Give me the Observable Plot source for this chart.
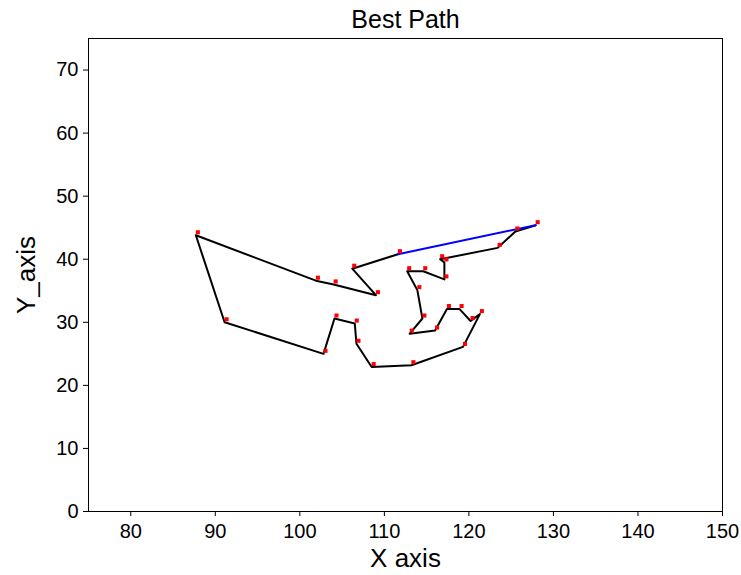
<!DOCTYPE html>
<html>
<head>
<meta charset="utf-8">
<script src="https://cdn.jsdelivr.net/npm/d3@7"></script>
<script src="https://cdn.jsdelivr.net/npm/@observablehq/plot@0.6"></script>
<style>
  html, body { margin: 0; padding: 0; background: #fff; }
  svg { font-family: "Liberation Sans", Arial, sans-serif; }
</style>
</head>
<body>
<div id="chart"></div>
<script>
// Path order (visited cities)
const pathX = [127.9, 125.5, 123.4, 116.6, 117.1, 117.1, 114.6, 112.7, 113.9, 114.5,
               113.0, 116.0, 117.4, 118.9, 120.2, 121.3, 119.3, 113.2, 108.5, 106.7,
               106.5, 104.1, 102.8, 91.1, 87.7, 101.9, 104.0, 109.0, 106.2, 111.6];
const pathY = [45.4, 44.4, 41.8, 40.0, 39.5, 36.8, 38.1, 38.1, 35.1, 30.6,
               28.2, 28.7, 32.1, 32.1, 30.2, 31.3, 26.1, 23.2, 22.9, 26.6,
               29.8, 30.6, 25.0, 30.0, 43.8, 36.6, 36.0, 34.3, 38.5, 40.8];
// Closing segment (last city back to first), drawn in blue
const closeX = [111.6, 127.9];
const closeY = [40.8, 45.4];

const xTicks = [80, 90, 100, 110, 120, 130, 140, 150];
const yTicks = [0, 10, 20, 30, 40, 50, 60, 70];

const titleText = "Best Path";
const xLabel = "X axis";
const yLabel = "Y_axis";

const pathData = pathX.map((x, i) => ({x, y: pathY[i]}));
const closeData = closeX.map((x, i) => ({x, y: closeY[i]}));

const chart = Plot.plot({
  width: 741,
  height: 575,
  marginLeft: 88,
  marginRight: 19,
  marginTop: 38,
  marginBottom: 64,
  style: {fontFamily: "'Liberation Sans', Arial, sans-serif", background: "#fff", color: "#000"},
  x: {domain: [75, 150], ticks: xTicks},
  y: {domain: [0, 75], ticks: yTicks},
  marks: [
    Plot.line(pathData, {x: "x", y: "y", stroke: "#000", strokeWidth: 2}),
    Plot.line(closeData, {x: "x", y: "y", stroke: "#0000ff", strokeWidth: 2}),
    Plot.dot(pathData, {x: "x", y: "y", symbol: "square", r: 2.3, fill: "#ff0000", stroke: null, dx: 2, dy: -3}),
    Plot.frame({stroke: "#000", strokeWidth: 1, strokeOpacity: 1}),
    Plot.axisX({ticks: xTicks, tickSize: 5, tickPadding: 7, fontSize: 20, label: null, stroke: "#000", strokeOpacity: 1}),
    Plot.axisY({ticks: yTicks, tickSize: 5, tickPadding: 5, fontSize: 20, label: null, stroke: "#000", strokeOpacity: 1}),
    Plot.text([titleText], {frameAnchor: "top", lineAnchor: "middle", textAnchor: "middle", dy: -19, fontSize: 25, fill: "#000"}),
    Plot.text([xLabel], {frameAnchor: "bottom", lineAnchor: "middle", textAnchor: "middle", dy: 47, fontSize: 26, fill: "#000"}),
    Plot.text([yLabel], {frameAnchor: "left", lineAnchor: "middle", textAnchor: "middle", dx: -62, rotate: -90, fontSize: 26, fill: "#000"})
  ]
});
document.getElementById("chart").appendChild(chart);
</script>
</body>
</html>
